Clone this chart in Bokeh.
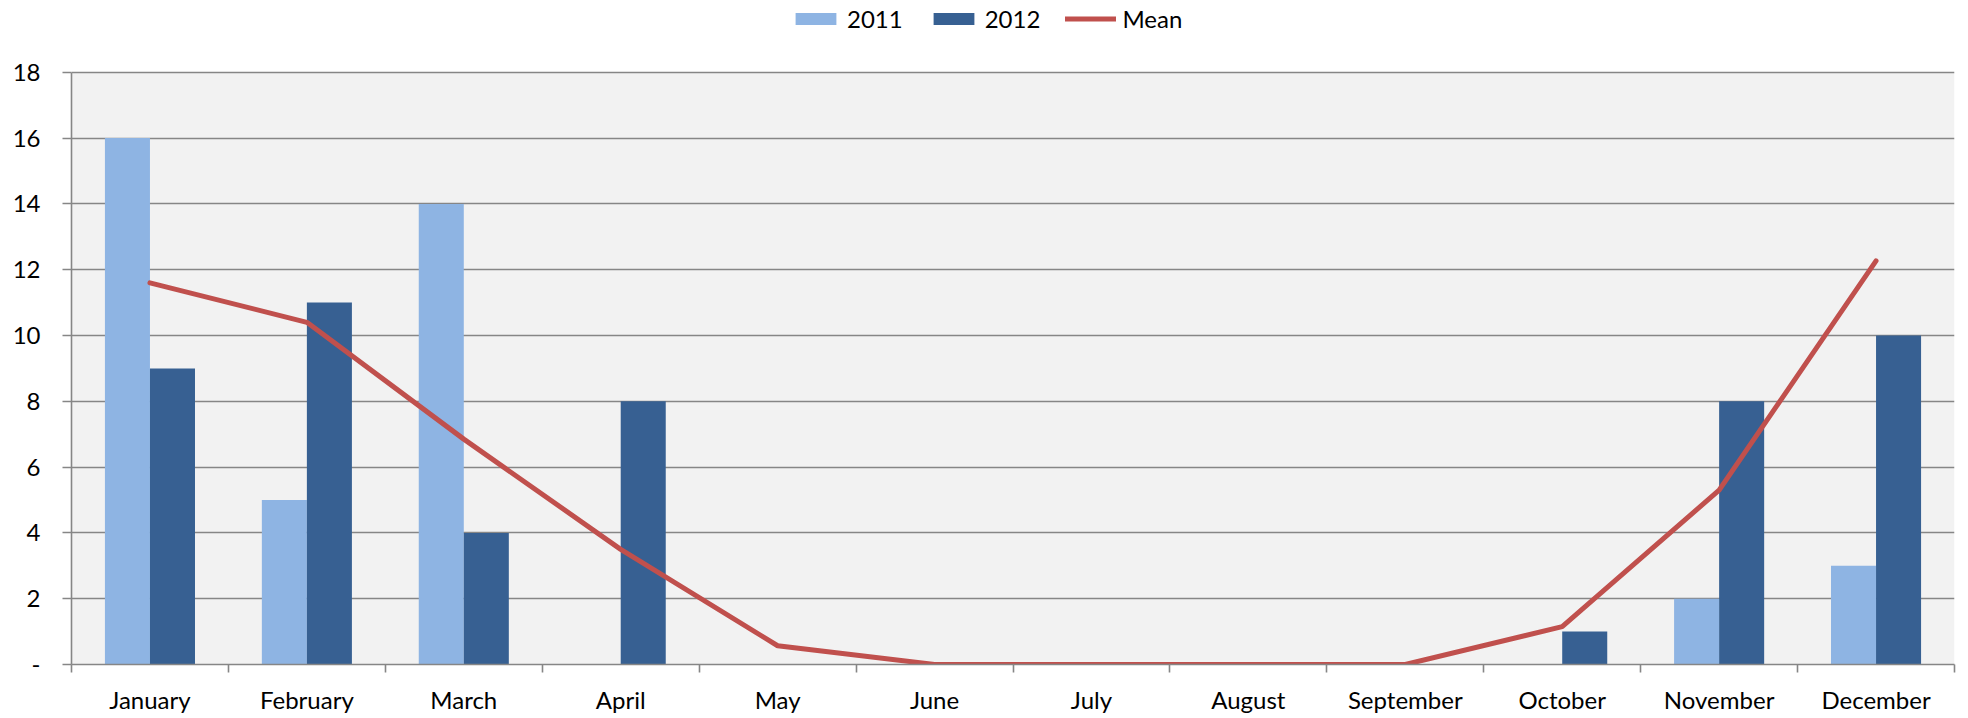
from bokeh.plotting import figure
from bokeh.models import (ColumnDataSource, Range1d, FixedTicker, Legend,
                          LegendItem, BoxAnnotation)
from bokeh.transform import dodge
from bokeh.embed import file_html
from bokeh.resources import INLINE
import numpy as np

months = ["January", "February", "March", "April", "May", "June", "July",
          "August", "September", "October", "November", "December"]
y2011 = [16, 5, 14, 0, 0, 0, 0, 0, 0, 0, 2, 3]
y2012 = [9, 11, 4, 8, 0, 0, 0, 0, 0, 1, 8, 10]
mean = [11.6, 10.4, 6.85, 3.5, 0.57, 0, 0, 0, 0, 1.15, 5.3, 12.27]
y_ticks = [0, 2, 4, 6, 8, 10, 12, 14, 16, 18]

FONT = "Lato"
GRAY = "#868686"

Y_MAX = y_ticks[-1]
# frame spans the whole height above the x axis; the plot box is 594px tall
# and starts 72px below the top, leaving room for the legend
Y_END = Y_MAX * 666 / 594

x = np.arange(len(months)) + 0.5
src = ColumnDataSource(dict(x=x, y2011=y2011, y2012=y2012, mean=mean))

p = figure(width=1966, height=716, output_backend="svg", toolbar_location=None,
           x_range=Range1d(0, len(months)), y_range=Range1d(0, Y_END),
           min_border_left=71, min_border_right=12, min_border_top=0,
           min_border_bottom=50)
p.background_fill_color = "white"
p.border_fill_color = "white"
p.outline_line_color = None

p.add_layout(BoxAnnotation(bottom=0, top=Y_MAX, fill_color="#F2F2F2",
                           fill_alpha=1, line_color=None, level="image"))

bw = 0.287
r1 = p.vbar(x=dodge("x", -bw / 2, range=p.x_range), top="y2011", width=bw,
            source=src, fill_color="#8EB4E3", line_color=None)
r2 = p.vbar(x=dodge("x", bw / 2, range=p.x_range), top="y2012", width=bw,
            source=src, fill_color="#376092", line_color=None)
r3 = p.line(x="x", y="mean", source=src, line_color="#C0504D", line_width=5,
            line_cap="round")

# grid
p.xgrid.visible = False
p.ygrid.ticker = FixedTicker(ticks=y_ticks[1:])
p.ygrid.grid_line_color = GRAY
p.ygrid.grid_line_width = 1.6

# y axis
ya = p.yaxis[0]
ya.ticker = FixedTicker(ticks=y_ticks)
ya.bounds = (0, Y_MAX)
ya.major_label_overrides = {t: ("-" if t == 0 else str(t)) for t in y_ticks}
ya.axis_line_color = GRAY
ya.axis_line_width = 1.6
ya.major_tick_line_color = GRAY
ya.major_tick_line_width = 1.6
ya.major_tick_out = 9
ya.major_tick_in = 0
ya.minor_tick_line_color = None
ya.major_label_standoff = 22
ya.major_label_text_font = FONT
ya.major_label_text_font_size = "24px"
ya.major_label_text_color = "black"

# x axis
xa = p.xaxis[0]
bounds = list(range(len(months) + 1))
xa.ticker = FixedTicker(ticks=list(x), minor_ticks=bounds)
xa.major_label_overrides = {float(v): m for v, m in zip(x, months)}
xa.axis_line_color = GRAY
xa.axis_line_width = 1.6
xa.major_tick_line_color = None
xa.major_tick_out = 0
xa.major_tick_in = 0
xa.minor_tick_line_color = GRAY
xa.minor_tick_line_width = 1.6
xa.minor_tick_out = 8
xa.minor_tick_in = 0
xa.major_label_standoff = 12
xa.major_label_text_font = FONT
xa.major_label_text_font_size = "24px"
xa.major_label_text_color = "black"

legend = Legend(items=[LegendItem(label="2011", renderers=[r1]),
                       LegendItem(label="2012", renderers=[r2]),
                       LegendItem(label="Mean", renderers=[r3])],
                orientation="horizontal", location=(719, 631),
                glyph_width=51, glyph_height=15, label_standoff=6, spacing=25,
                padding=0, margin=0, border_line_color=None,
                background_fill_alpha=0, label_text_font=FONT,
                label_text_font_size="24px", label_text_color="black",
                label_height=22)
p.add_layout(legend, "center")

open("out.html", "w").write(file_html(p, INLINE))
